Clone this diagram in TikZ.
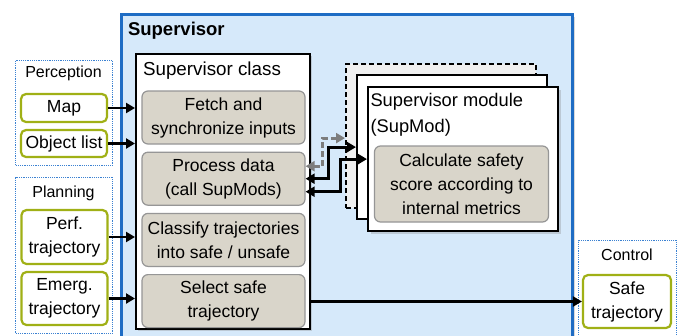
\documentclass[tikz,border=0pt]{standalone}
\usepackage{fontspec}
\setmainfont{Liberation Sans}
\usetikzlibrary{positioning,arrows.meta,shadows}

\definecolor{supblue}{RGB}{30,108,196}
\definecolor{supfill}{RGB}{214,233,250}
\definecolor{dotblue}{RGB}{60,130,210}
\definecolor{ioborder}{RGB}{160,176,22}
\definecolor{taskfill}{RGB}{217,213,202}
\definecolor{taskdraw}{RGB}{150,150,150}
\definecolor{backfill}{RGB}{240,240,240}
\definecolor{linkgray}{RGB}{125,125,125}

\tikzset{
  grp/.style={draw=dotblue,densely dotted,line width=1.2pt,fill=white,anchor=north west},
  grptitle/.style={font=\fontsize{16pt}{20pt}\selectfont},
  io/.style={draw=ioborder,line width=2.2pt,rounded corners=5pt,fill=white,minimum width=86pt,align=center},
  task/.style={draw=taskdraw,line width=1.2pt,rounded corners=6pt,fill=taskfill,minimum width=163pt,minimum height=53pt,align=center},
  modbox/.style={draw=black,line width=2.2pt,minimum width=190pt,minimum height=144pt,anchor=north west},
  boxshadow/.style={drop shadow={shadow xshift=2.5pt,shadow yshift=-2.5pt,opacity=0.3}},
  flow/.style={line width=2.8pt,-{Triangle[length=9pt,width=10pt]}},
  modlink/.style={line width=2.8pt,{Triangle[length=9pt,width=10pt]}-{Triangle[length=9pt,width=10pt]}},
}

\begin{document}
\begin{tikzpicture}[x=1pt,y=-1pt,font=\fontsize{17.5pt}{24pt}\selectfont]
	\useasboundingbox (0,0) rectangle (684,335);
	
	\node[draw=supblue,line width=3pt,fill=supfill,minimum width=451pt,minimum height=335pt,anchor=north west,boxshadow] (sup) at (120,13) {};
	\node[anchor=west,font=\fontsize{18.5pt}{24pt}\selectfont\bfseries] (supt) at (124.5,30.5) {Supervisor};
	
	% inputs
	\node[grp,minimum width=97pt,minimum height=105pt] (perc) at (15,60) {};
	\node[grptitle] (perct) at (63.5,73) {Perception};
	\node[io,minimum height=28pt] (map) at (64,108) {Map};
	\node[io,minimum height=27pt] (obj) at (64,143.5) {Object list};
	
	\node[grp,minimum width=97pt,minimum height=156pt] (plan) at (15,177) {};
	\node[grptitle] (plant) at (63.5,193) {Planning};
	\node[io,minimum height=54pt] (perf) at (64.5,237) {Perf.\\trajectory};
	\node[io,minimum height=53pt] (emerg) at (64.5,298.5) {Emerg.\\trajectory};
	
	% output
	\node[grp,minimum width=98pt,minimum height=100pt] (ctrl) at (578,240) {};
	\node[grptitle] (ctrlt) at (627,255) {Control};
	\node[io,minimum width=88pt,minimum height=53pt] (safe) at (627,301.5) {Safe\\trajectory};
	
	% supervisor class
	\node[draw,line width=1.5pt,fill=white,minimum width=174pt,minimum height=275pt,anchor=north west,boxshadow] (sc) at (135,53) {};
	\node[anchor=west,font=\fontsize{18.8pt}{24pt}\selectfont] (sct) at (139.5,71) {Supervisor class};
	\node[task] (fetch) at (223.5,117.5) {Fetch and\\synchronize inputs};
	\node[task,below=7pt of fetch] (proc) {Process data\\(call SupMods)};
	\node[task,below=7pt of proc] (cls) {Classify trajectories\\into safe / unsafe};
	\node[task,below=7pt of cls] (sel) {Select safe\\trajectory};
	
	% supervisor modules
	\node[modbox,dash pattern=on 5pt off 3pt,fill=backfill] (sm0) at (345,63) {};
	\node[modbox,fill=white] (sm1) at ([xshift=11pt,yshift=-11pt]sm0.north west) {};
	\node[modbox,fill=white,boxshadow] (sm2) at ([xshift=11pt,yshift=-12pt]sm1.north west) {};
	\node[anchor=north west,align=left,font=\fontsize{18.3pt}{26pt}\selectfont] (smt) at ([xshift=0pt,yshift=-3.5pt]sm2.north west) {Supervisor module\\(SupMod)};
	\node[task,minimum width=174pt,minimum height=76pt] (calc) at (461.5,184) {Calculate safety\\score according to\\internal metrics};
	
	\draw[flow] (map.east) -- (map.east -| sc.west);
	\draw[flow] (obj.east) -- (obj.east -| sc.west);
	\draw[flow] (perf.east) -- (perf.east -| sc.west);
	\draw[flow] (emerg.east) -- (emerg.east -| sc.west);
	\draw[flow] (sc.east |- safe.west) -- (safe.west);
	
	\draw[modlink,draw=linkgray,dash pattern=on 6pt off 3pt] ([yshift=12.5pt]proc.east) -- ++(17,0) |- ([yshift=-2pt]sm0.west);
	\draw[modlink] (proc.east) -- ++(23,0) |- (sm1.west);
	\draw[modlink] ([yshift=-13pt]proc.east) -- ++(35,0) |- (sm2.west);
\end{tikzpicture}
\end{document}
